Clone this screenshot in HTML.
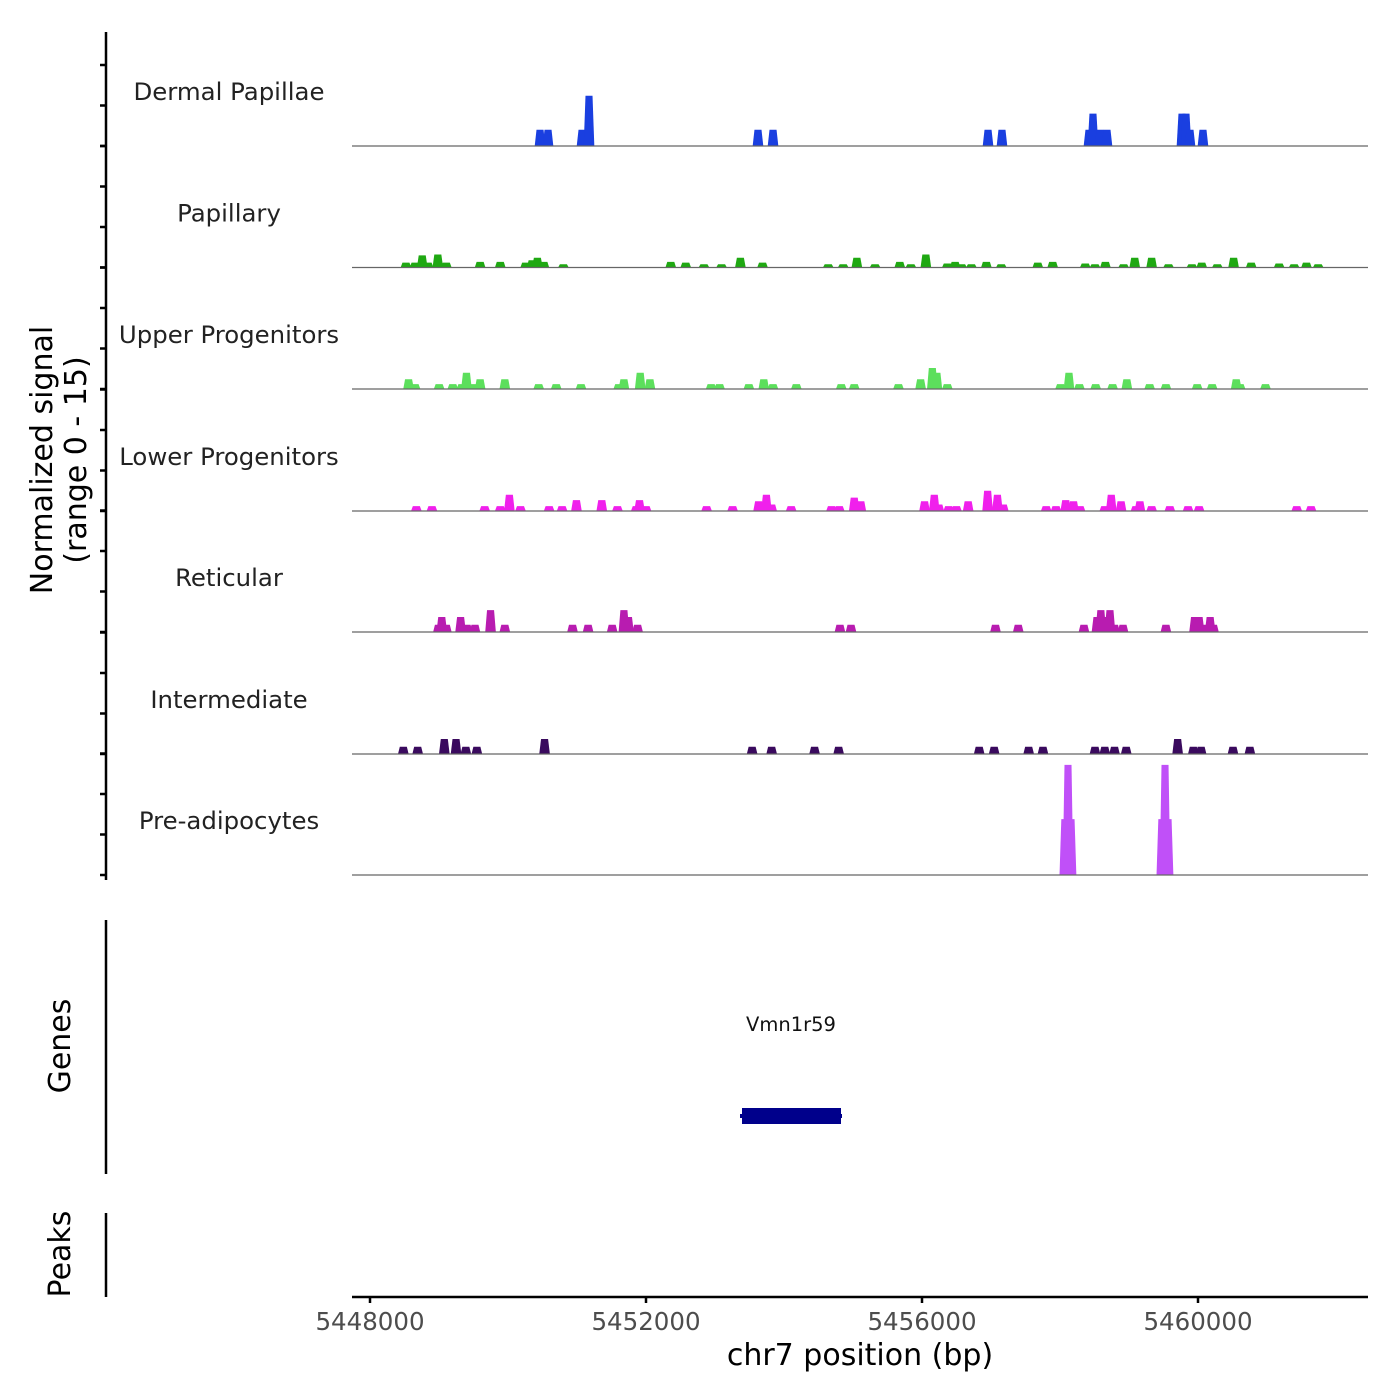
<!DOCTYPE html>
<html><head><meta charset="utf-8"><style>
html,body{margin:0;padding:0;background:#fff;}
svg{display:block;font-family:"DejaVu Sans","Liberation Sans",sans-serif;}
</style></head><body>
<svg id="chart" width="1400" height="1400" viewBox="0 0 1400 1400"></svg>
<script>
const trackNames = ["Dermal Papillae","Papillary","Upper Progenitors","Lower Progenitors","Reticular","Intermediate","Pre-adipocytes"];
const trackColors = ["#1a3fe0","#1fa812","#5cdf5c","#f020ec","#b81cb0","#3a0a5e","#c050f8"];
const xTicks = [5448000,5452000,5456000,5460000];
const xTickLabels = ["5448000","5452000","5456000","5460000"];
const dermalPos = [5450464,5450580,5451073,5451174,5453623,5453841,5456957,5457159,5458420,5458478,5458580,5458681,5459768,5459826,5459884,5460072];
const dermalVal = [2,2,2,6.2,2,2,2,2,2,4,2,2,4,4,2,2];
const papPos = [5448521,5448653,5448757,5448842,5448983,5449106,5449596,5449888,5450256,5450350,5450426,5450520,5450803,5452359,5452576,5452840,5453095,5453368,5453689,5454641,5454858,5455056,5455320,5455678,5455839,5456056,5456367,5456480,5456574,5456716,5456933,5457149,5457678,5457894,5458366,5458507,5458658,5458922,5459083,5459328,5459573,5459912,5460054,5460280,5460516,5460771,5461176,5461393,5461572,5461742];
const papVal = [0.6,0.6,1.5,0.6,1.6,0.6,0.7,0.7,0.6,0.9,1.2,0.7,0.4,0.7,0.6,0.4,0.4,1.2,0.6,0.4,0.4,1.2,0.4,0.7,0.4,1.6,0.5,0.7,0.4,0.4,0.7,0.4,0.6,0.7,0.5,0.4,0.7,0.4,1.2,1.2,0.4,0.4,0.6,0.4,1.2,0.6,0.5,0.4,0.6,0.4];
const upPos = [5448559,5448653,5449002,5449200,5449332,5449398,5449483,5449596,5449954,5450445,5450699,5451058,5451605,5451680,5451916,5452057,5452944,5453066,5453491,5453707,5453840,5454179,5454830,5455018,5455659,5455980,5456150,5456216,5456367,5458008,5458130,5458281,5458517,5458762,5458969,5459299,5459535,5459988,5460205,5460554,5460610,5460978];
const upVal = [1.2,0.6,0.6,0.6,0.6,2,0.6,1.2,1.2,0.6,0.6,0.6,0.6,1.2,2,1.2,0.6,0.6,0.6,1.2,0.6,0.6,0.6,0.6,0.6,1.2,2.6,2,0.6,0.6,2,0.6,0.6,0.6,1.2,0.6,0.6,0.6,0.6,1.2,0.6,0.6];
const lowPos = [5448672,5448898,5449662,5449888,5450020,5450181,5450596,5450784,5450992,5451359,5451586,5451859,5451906,5452001,5452878,5453255,5453632,5453745,5453821,5454104,5454688,5454801,5455018,5455113,5456037,5456178,5456244,5456386,5456499,5456669,5456951,5457093,5457178,5457800,5457942,5458083,5458196,5458290,5458649,5458743,5458885,5459101,5459158,5459328,5459592,5459856,5460016,5461431,5461638];
const lowVal = [0.6,0.6,0.6,0.6,2,0.6,0.6,0.6,1.35,1.35,0.6,0.6,1.35,0.6,0.6,0.6,1.2,2,0.8,0.6,0.6,0.6,1.65,1.2,1.2,2,0.8,0.6,0.6,1.2,2.5,2,0.8,0.6,0.6,1.35,1.2,0.6,0.6,2,1.2,0.6,1.2,0.6,0.6,0.6,0.6,0.6,0.6];
const retPos = [5448992,5449040,5449106,5449313,5449407,5449521,5449747,5449954,5450935,5451161,5451510,5451680,5451746,5451878,5454811,5454971,5457065,5457395,5458347,5458536,5458592,5458677,5458724,5458790,5458913,5459535,5459950,5460016,5460082,5460176,5460224];
const retVal = [0.9,1.85,0.9,1.85,0.9,0.9,2.7,0.9,0.9,0.9,0.9,2.7,1.85,0.9,0.9,0.9,0.9,0.9,0.9,1.85,2.7,1.85,2.7,0.9,0.9,0.9,1.85,1.85,0.9,1.85,0.9];
const intPos = [5448483,5448691,5449077,5449247,5449389,5449549,5450530,5453538,5453821,5454443,5454792,5456829,5457046,5457546,5457753,5458507,5458649,5458790,5458960,5459705,5459932,5460045,5460507,5460752];
const intVal = [0.9,0.9,1.85,1.85,0.9,0.9,1.85,0.9,0.9,0.9,0.9,0.9,0.9,0.9,0.9,0.9,0.9,0.9,0.9,1.85,0.9,0.9,0.9,0.9];
const prePos = [5458070,5458116,5458160,5459476,5459522,5459566];
const preVal = [6.9,13.6,6.9,6.9,13.6,6.9];
const trackPos = [dermalPos,papPos,upPos,lowPos,retPos,intPos,prePos];
const trackVal = [dermalVal,papVal,upVal,lowVal,retVal,intVal,preVal];

const NS="http://www.w3.org/2000/svg";
const svg=document.getElementById('chart');
function mk(tag,attrs,parent){const e=document.createElementNS(NS,tag);for(const k in attrs)e.setAttribute(k,attrs[k]);(parent||svg).appendChild(e);return e;}
const X0=352,X1=1368;
const xScale=bp=>370+(bp-5448000)*0.069;
const baselines=[146,267.5,389,511,632,754,875];
const pxPerUnit=121.5/15;
const yScale=(t,v)=>baselines[t]-v*pxPerUnit;
const binW=125*0.069;

let ax=mk('line',{x1:106,y1:32,x2:106,y2:880,stroke:'#000','stroke-width':2.5});


for(let t=0;t<7;t++){for(let k=0;k<4;k++){const y=baselines[t]-k*40.5; if(y<30) continue;
const tk=mk('line',{x1:100,y1:y,x2:106,y2:y,stroke:'#000','stroke-width':2.5});

}}
let yt=mk('text',{x:0,y:0,'font-size':30,fill:'#000','text-anchor':'middle',transform:'translate(52,460) rotate(-90)'});


yt.innerHTML='<tspan x="0" dy="0">Normalized signal</tspan><tspan x="0" dy="34">(range 0 - 15)</tspan>';

for(let t=0;t<7;t++){
  const g=mk('g',{});
  
  
  const lab=mk('text',{x:229,y:baselines[t]-46,'font-size':24.4,fill:'#222','text-anchor':'middle'},g);
  lab.textContent=trackNames[t];
  
  
  const pos=trackPos[t],val=trackVal[t];
  for(let i=0;i<pos.length;i++){
    const cx=xScale(pos[i]),top=yScale(t,val[i]),b=baselines[t];
    const p=mk('polygon',{points:`${cx-binW/2-1},${b} ${cx-binW/2+0.8},${top} ${cx+binW/2-0.8},${top} ${cx+binW/2+1},${b}`,fill:trackColors[t]},g);
    
    
  }
  const bl=mk('line',{x1:X0,y1:baselines[t],x2:X1,y2:baselines[t],stroke:'#666','stroke-width':1.2},g);
  
  
}

let ga=mk('line',{x1:106,y1:920,x2:106,y2:1174,stroke:'#000','stroke-width':2.5});


let gt=mk('text',{x:0,y:0,'font-size':30,fill:'#000','text-anchor':'middle',transform:'translate(70,1046) rotate(-90)'});
gt.textContent='Genes';


let gl=mk('text',{x:791,y:1031,'font-size':19.5,fill:'#111','text-anchor':'middle'});
gl.textContent='Vmn1r59';


let gb=mk('rect',{x:742,y:1108,width:99,height:16,fill:'#00008b'});


let gline=mk('line',{x1:740,y1:1116,x2:842,y2:1116,stroke:'#00008b','stroke-width':4});



let pa=mk('line',{x1:106,y1:1213,x2:106,y2:1297,stroke:'#000','stroke-width':2.5});


let pt=mk('text',{x:0,y:0,'font-size':30,fill:'#000','text-anchor':'middle',transform:'translate(70,1254) rotate(-90)'});
pt.textContent='Peaks';



let xa=mk('line',{x1:X0,y1:1297,x2:X1,y2:1297,stroke:'#000','stroke-width':2.5});


for(let i=0;i<xTicks.length;i++){
  const x=xScale(xTicks[i]);
  const tk=mk('line',{x1:x,y1:1297,x2:x,y2:1303,stroke:'#000','stroke-width':2.5});
  
  
  const tl=mk('text',{x:x,y:1330,'font-size':24.5,fill:'#4d4d4d','text-anchor':'middle'});
  tl.textContent=xTickLabels[i];
  
  
}
let xt=mk('text',{x:860,y:1365,'font-size':30,fill:'#000','text-anchor':'middle'});
xt.textContent='chr7 position (bp)';


</script>
</body></html>
